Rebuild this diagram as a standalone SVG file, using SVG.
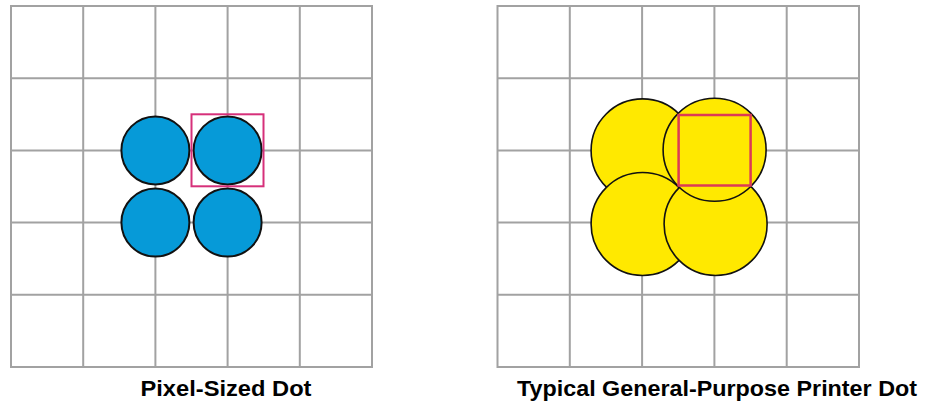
<svg xmlns="http://www.w3.org/2000/svg" width="932" height="402" viewBox="0 0 932 402">
<style>
.grid{fill:none;stroke:#a2a2a2;stroke-width:2}
.blue{fill:#069ad8;stroke:#111;stroke-width:2}
.yel{fill:#ffe900;stroke:#111;stroke-width:1.6}
.sq{fill:none;stroke:#d6307a;stroke-width:2}
.sq2{fill:none;stroke:#dc3a55;stroke-width:2.5}
.lbl{font-family:"Liberation Sans",Arial,sans-serif;font-weight:bold;font-size:22.5px;fill:#000;text-anchor:middle}
</style>
<rect width="932" height="402" fill="#fff"/>
<g id="left-grid" class="grid">
<rect x="11" y="6" width="361" height="361"/>
<path d="M83.2 6V367M155.4 6V367M227.6 6V367M299.8 6V367M11 78.2H372M11 150.4H372M11 222.6H372M11 294.8H372"/>
</g>
<g id="pixel-dots">
<circle class="blue" cx="155.4" cy="150.4" r="34"/>
<circle class="blue" cx="227.6" cy="150.4" r="34"/>
<circle class="blue" cx="155.4" cy="222.6" r="34"/>
<circle class="blue" cx="227.6" cy="222.6" r="34"/>
<rect class="sq" x="191.5" y="114.3" width="72" height="72"/>
</g>
<g id="right-grid" class="grid">
<rect x="497.5" y="6" width="361.5" height="361"/>
<path d="M569.8 6V367M642.1 6V367M714.4 6V367M786.7 6V367M497.5 78.2H859M497.5 150.4H859M497.5 222.6H859M497.5 294.8H859"/>
</g>
<g id="printer-dots">
<circle class="yel" cx="642.6" cy="150.4" r="51.5"/>
<circle class="yel" cx="642.6" cy="224" r="51.5"/>
<circle class="yel" cx="715.6" cy="224" r="51.5"/>
<circle class="yel" cx="714.6" cy="149.8" r="51.5"/>
<rect class="sq2" x="678.6" y="115" width="72" height="70.5"/>
</g>
<g id="labels">
<text class="lbl" x="226" y="395.5" textLength="171" lengthAdjust="spacingAndGlyphs">Pixel-Sized Dot</text>
<text class="lbl" x="717" y="395.5" textLength="400" lengthAdjust="spacingAndGlyphs">Typical General-Purpose Printer Dot</text>
</g>
</svg>
